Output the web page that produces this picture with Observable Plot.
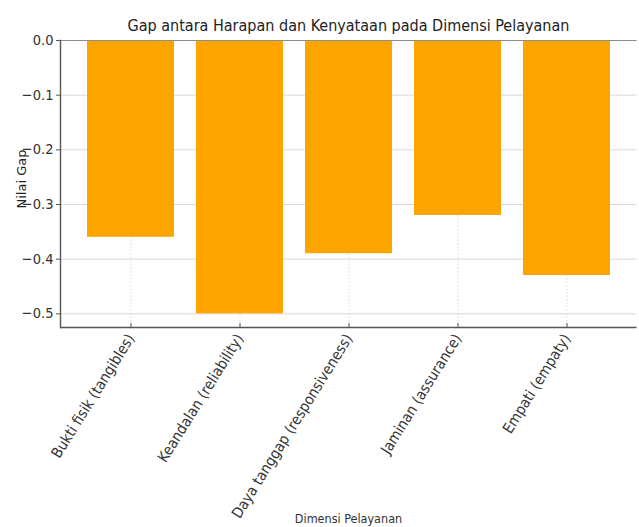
<!DOCTYPE html>
<html>
<head>
<meta charset="utf-8">
<script src="https://cdn.jsdelivr.net/npm/d3@7"></script>
<script src="https://cdn.jsdelivr.net/npm/@observablehq/plot@0.6"></script>
<style>
  html, body { margin: 0; padding: 0; background: #fff; overflow: hidden; }
  #wrap { position: relative; width: 639px; height: 527px; }
  #title {
    position: absolute; left: 60px; top: 18px; width: 577px;
    text-align: center; font-family: "DejaVu Sans Condensed", "Liberation Sans", sans-serif;
    font-size: 16px; line-height: 16px; color: #222; white-space: nowrap;
  }
  #ylabel {
    position: absolute; left: 21px; top: 179px; width: 0; height: 0;
  }
  #ylabel span {
    position: absolute; left: 0; top: 0; transform: translate(-50%, -50%) rotate(-90deg);
    font-family: "DejaVu Sans", sans-serif; font-size: 13px; line-height: 13px; color: #222; white-space: nowrap;
  }
  #xlabel {
    position: absolute; left: 60px; top: 512px; width: 577px; text-align: center;
    font-family: "DejaVu Sans Condensed", "Liberation Sans", sans-serif; font-size: 12.5px; line-height: 13px; color: #333; white-space: nowrap;
  }
  #chart svg { display: block; }
</style>
</head>
<body>
<div id="wrap">
  <div id="chart"></div>
  <div id="title"></div>
  <div id="ylabel"><span></span></div>
  <div id="xlabel"></div>
</div>
<script>
const titleText = "Gap antara Harapan dan Kenyataan pada Dimensi Pelayanan";
const categories = [
  "Bukti fisik (tangibles)",
  "Keandalan (reliability)",
  "Daya tanggap (responsiveness)",
  "Jaminan (assurance)",
  "Empati (empaty)"
];
const gapValues = [-0.36, -0.50, -0.39, -0.32, -0.43];
const yTicks = [0, -0.1, -0.2, -0.3, -0.4, -0.5];
const yDomain = [-0.525, 0];
const yLabel = "Nilai Gap";
const xLabel = "Dimensi Pelayanan";

document.getElementById("title").textContent = titleText;
document.querySelector("#ylabel span").textContent = yLabel;
document.getElementById("xlabel").textContent = xLabel;

const data = categories.map((c, i) => ({dim: c, gap: gapValues[i]}));

const W = 639, H = 527;
const mL = 60, mR = 2.5, mT = 40, mB = 200;
const plotH = H - mT - mB;
const condensed = "'DejaVu Sans Condensed', 'Liberation Sans', sans-serif";

const chart = Plot.plot({
  width: W,
  height: H,
  marginLeft: mL,
  marginRight: mR,
  marginTop: mT,
  marginBottom: mB,
  style: {fontFamily: "DejaVu Sans", background: "#fff", color: "#333"},
  x: {type: "band", domain: categories, paddingInner: 0.2, paddingOuter: 0.24, label: null},
  y: {domain: yDomain, label: null},
  marks: [
    Plot.gridY(yTicks, {stroke: "#d9d9d9", strokeOpacity: 1, strokeWidth: 1}),
    Plot.gridX({stroke: "#cfcfcf", strokeOpacity: 1, strokeWidth: 0.8, strokeDasharray: "1.5,2"}),
    Plot.barY(data, {x: "dim", y: "gap", fill: "#FFA500"}),
    Plot.ruleY([0], {stroke: "#8c8c8c", strokeWidth: 1.2}),
    Plot.ruleY([yDomain[0]], {stroke: "#555", strokeWidth: 1.6}),
    Plot.frame({anchor: "left", stroke: "#555", strokeWidth: 1.4}),
    Plot.ruleX(categories, {x: d => d, insetTop: plotH - 4, stroke: "#555", strokeWidth: 1}),
    Plot.axisY({
      ticks: yTicks, tickFormat: d3.format(".1f"), tickSize: 4, tickPadding: 3,
      fontSize: 14.5, fontFamily: condensed, label: null, stroke: "#555", fill: "#333"
    }),
    Plot.axisX({
      tickSize: 0, tickPadding: 8, tickRotate: -58, fontSize: 15,
      fontFamily: condensed, label: null, fill: "#333"
    })
  ]
});
document.getElementById("chart").append(chart);
</script>
</body>
</html>
